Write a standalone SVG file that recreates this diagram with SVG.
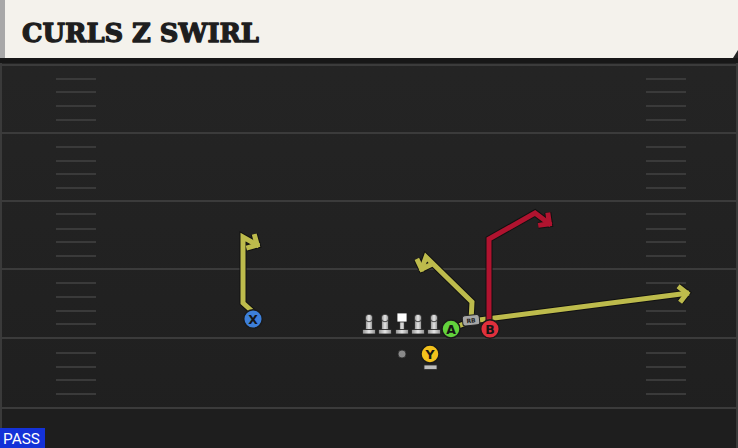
<svg xmlns="http://www.w3.org/2000/svg" width="738" height="448" viewBox="0 0 738 448">
<defs>
<style>
.hash{stroke:#3a3a3a;stroke-width:2}
.yard{stroke:#3b3b3b;stroke-width:2}
.ro{fill:none;stroke:#111;stroke-width:7;stroke-linejoin:miter}
.ry{fill:none;stroke:#bdbb4c;stroke-width:5;stroke-linejoin:miter}
.rr{fill:none;stroke:#b0132f;stroke-width:5;stroke-linejoin:miter}
.lm{fill:url(#lmg);stroke:#222;stroke-width:0.8}
.pc{stroke:#1a1a1a;stroke-width:1.5}
.pl{font-family:"DejaVu Sans","Liberation Sans",sans-serif;font-weight:bold;font-size:12.5px;fill:#151515;text-anchor:middle}
</style>
<linearGradient id="fieldg" x1="0" y1="0" x2="0" y2="1">
<stop offset="0" stop-color="#252525"/>
<stop offset="1" stop-color="#1f1f1f"/>
</linearGradient>
<linearGradient id="lmg" x1="0" y1="0" x2="1" y2="0">
<stop offset="0" stop-color="#8e8e8e"/>
<stop offset="0.5" stop-color="#e6e6e6"/>
<stop offset="1" stop-color="#8e8e8e"/>
</linearGradient>
<marker id="ah-o" markerUnits="userSpaceOnUse" viewBox="-14 -12 20 24" refX="0" refY="0" markerWidth="20" markerHeight="24" orient="auto" overflow="visible">
<path d="M-10,-8 L-2,0 L-10,8" fill="none" stroke="#111" stroke-width="7"/>
</marker>
<marker id="ah-y" markerUnits="userSpaceOnUse" viewBox="-14 -12 20 24" refX="0" refY="0" markerWidth="20" markerHeight="24" orient="auto" overflow="visible">
<path d="M-10,-8 L-2,0 L-10,8" fill="none" stroke="#bdbb4c" stroke-width="5"/>
</marker>
<marker id="ah-r" markerUnits="userSpaceOnUse" viewBox="-14 -12 20 24" refX="0" refY="0" markerWidth="20" markerHeight="24" orient="auto" overflow="visible">
<path d="M-10,-8 L-2,0 L-10,8" fill="none" stroke="#b0132f" stroke-width="5"/>
</marker>
<g id="lm">
<rect class="lm" x="-3.5" y="318" width="7" height="12" rx="1.5"/>
<circle class="lm" cx="0" cy="318" r="3.8"/>
<rect class="lm" x="-6.5" y="329.5" width="13" height="4.5"/>
</g>
</defs>

<!-- field -->
<rect x="0" y="0" width="738" height="448" fill="url(#fieldg)"/>
<rect x="0" y="408" width="738" height="40" fill="#1e1e1e"/>
<rect x="0" y="58" width="2" height="390" fill="#3a3a3a"/>
<rect x="736" y="58" width="2" height="390" fill="#3a3a3a"/>
<rect x="0" y="58" width="738" height="5" fill="#171717"/>
<g id="yardlines">
<line class="yard" x1="0" y1="65" x2="738" y2="65"/>
<line class="yard" x1="0" y1="133" x2="738" y2="133"/>
<line class="yard" x1="0" y1="201" x2="738" y2="201"/>
<line class="yard" x1="0" y1="269" x2="738" y2="269"/>
<line class="yard" x1="0" y1="338" x2="738" y2="338"/>
<line class="yard" x1="0" y1="408" x2="738" y2="408"/>
</g>
<g id="hashes">
<path class="hash" d="M56,79H96M56,92H96M56,106H96M56,120H96M56,147H96M56,161H96M56,174H96M56,188H96M56,214H96M56,229H96M56,242H96M56,256H96M56,283H96M56,297H96M56,311H96M56,324H96M56,353H96M56,367H96M56,380H96M56,394H96"/>
<path class="hash" d="M646,79H686M646,92H686M646,106H686M646,120H686M646,147H686M646,161H686M646,174H686M646,188H686M646,214H686M646,229H686M646,242H686M646,256H686M646,283H686M646,297H686M646,311H686M646,324H686M646,353H686M646,367H686M646,380H686M646,394H686"/>
</g>

<!-- title banner -->
<g id="title">
<path d="M0,0 H738 V50 L733,58 H0 Z" fill="#f4f2ec"/>
<rect x="0" y="0" width="5" height="58" fill="#a8a8a8"/>
<text x="22" y="42" font-family="'DejaVu Serif','Liberation Serif',serif" font-weight="bold" font-size="26" fill="#1e1e1e" stroke="#1e1e1e" stroke-width="1.3" stroke-linejoin="round" textLength="237" lengthAdjust="spacingAndGlyphs">CURLS Z SWIRL</text>
</g>

<!-- connectors -->
<g id="routes">
<g id="route-x">
<path class="ro" d="M253,312 L243,303 L243,237 L259,246" marker-end="url(#ah-o)"/>
<path class="ry" d="M253,312 L243,303 L243,237 L259,246" marker-end="url(#ah-y)"/>
</g>
<g id="route-a-link">
<path class="ro" d="M451,329 L471,321"/>
<path class="ry" d="M451,329 L471,321"/>
</g>
<g id="route-rb">
<path class="ro" d="M471,321 L472,302 L426,257 L421,271" marker-end="url(#ah-o)"/>
<path class="ry" d="M471,321 L472,302 L426,257 L421,271" marker-end="url(#ah-y)"/>
</g>
<g id="route-swirl">
<path class="ro" d="M471,321 L689,293" marker-end="url(#ah-o)"/>
<path class="ry" d="M471,321 L689,293" marker-end="url(#ah-y)"/>
</g>
<g id="route-b">
<path class="ro" d="M489,329 L489,239 L535,213 L551,225" marker-end="url(#ah-o)"/>
<path class="rr" d="M489,329 L489,239 L535,213 L551,225" marker-end="url(#ah-r)"/>
</g>
</g>

<!-- offensive line -->
<g id="lt" transform="translate(369,0)"><use href="#lm"/></g>
<g id="lg" transform="translate(385,0)"><use href="#lm"/></g>
<g id="c" transform="translate(402,0)">
<rect class="lm" x="-2.5" y="321" width="5" height="9"/>
<rect class="lm" x="-6.5" y="329.5" width="13" height="4.5"/>
<rect x="-5" y="313" width="10" height="9" fill="#ffffff" stroke="#222" stroke-width="0.8"/>
</g>
<g id="rg" transform="translate(418,0)"><use href="#lm"/></g>
<g id="rt" transform="translate(434,0)"><use href="#lm"/></g>

<!-- QB -->
<g id="qb"><circle cx="402" cy="354" r="4" fill="#8a8a8a" stroke="#2a2a2a" stroke-width="0.8"/></g>

<!-- RB tag -->
<g id="rb" transform="rotate(-6 471 320)">
<rect x="462.5" y="315" width="17" height="10.5" rx="2.5" fill="#a6a6a6" stroke="#222" stroke-width="1"/>
<text x="471" y="322.8" font-family="'DejaVu Sans','Liberation Sans',sans-serif" font-weight="bold" font-size="6" fill="#222" text-anchor="middle">RB</text>
</g>

<!-- skill players -->
<g id="x"><circle class="pc" cx="253" cy="319" r="9.3" fill="#3d7fd9"/><text class="pl" x="253" y="323.5">X</text></g>
<g id="a"><circle class="pc" cx="451" cy="329" r="9" fill="#62d23c"/><text class="pl" x="451" y="333.5">A</text></g>
<g id="b"><circle class="pc" cx="490" cy="329" r="9.3" fill="#e0303c"/><text class="pl" x="490" y="333.5">B</text></g>
<g id="y">
<rect x="424" y="365" width="13" height="4.5" fill="#bdbdbd" stroke="#2a2a2a" stroke-width="0.8"/>
<circle class="pc" cx="430" cy="354" r="9" fill="#f2c11c"/><text class="pl" x="430" y="358.5">Y</text>
</g>

<!-- play type label -->
<g id="pass">
<rect x="0" y="428" width="45" height="20" fill="#1432d8"/>
<text x="3" y="444" font-family="Roboto,'Liberation Sans',sans-serif" font-size="14" fill="#ffffff" textLength="37" lengthAdjust="spacingAndGlyphs">PASS</text>
</g>
</svg>
